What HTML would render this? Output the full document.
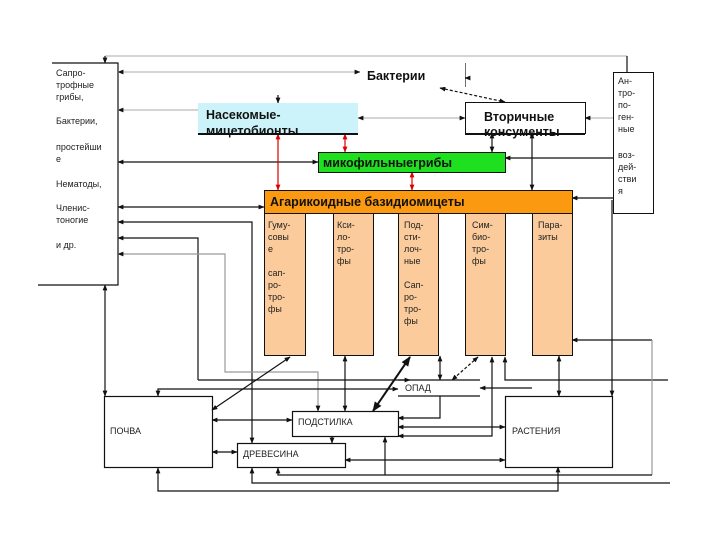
<!DOCTYPE html>
<html><head><meta charset="utf-8"><style>
body{margin:0;background:#fff}
svg{display:block;font-family:"Liberation Sans",sans-serif}
.t{font-size:9px;fill:#222}
.b{font-weight:bold;font-size:12.5px;fill:#111}
</style></head><body>
<svg width="720" height="540" viewBox="0 0 720 540" xmlns="http://www.w3.org/2000/svg">
<defs>
<marker id="a" viewBox="0 0 10 10" refX="9" refY="5" markerWidth="5" markerHeight="5" orient="auto-start-reverse"><path d="M0,1 L10,5 L0,9z" fill="#111"/></marker>
<marker id="r" viewBox="0 0 10 10" refX="9" refY="5" markerWidth="5" markerHeight="5" orient="auto-start-reverse"><path d="M0,1 L10,5 L0,9z" fill="#d00"/></marker>
</defs>
<g stroke="#111" stroke-width="1.2" fill="none">
<!-- top lines -->
<line x1="105" y1="56" x2="627" y2="56" stroke="#bbb"/>
<line x1="627" y1="56" x2="627" y2="72"/>
<line x1="105" y1="63" x2="105" y2="56" marker-start="url(#a)"/>
<!-- left box -->
<path d="M52,63 H118 V285 H38"/>
<!-- left arrows -->
<line x1="118" y1="72" x2="360" y2="72" stroke="#bbb" marker-start="url(#a)" marker-end="url(#a)"/>
<line x1="118" y1="110" x2="198" y2="110" stroke="#bbb" marker-start="url(#a)"/>
<line x1="118" y1="162" x2="318" y2="162" marker-start="url(#a)" marker-end="url(#a)"/>
<line x1="118" y1="207" x2="264" y2="207" marker-start="url(#a)" marker-end="url(#a)"/>
<path d="M252,443 V222 H118" marker-start="url(#a)" marker-end="url(#a)"/>
<path d="M198,380 V238 H118" marker-end="url(#a)"/>
<path d="M318,411 V372 H225 V254 H118" stroke="#999" marker-start="url(#a)" marker-end="url(#a)"/>
<path d="M198,380 H410" marker-end="url(#a)"/>
<line x1="105" y1="285" x2="105" y2="396" marker-start="url(#a)" marker-end="url(#a)"/>
<!-- top boxes -->
<path d="M465,63 V87"/>
<line x1="465" y1="78" x2="470" y2="78" marker-start="url(#a)"/>
<line x1="440" y1="88" x2="505" y2="102" stroke-dasharray="3,2" marker-start="url(#a)" marker-end="url(#a)"/>
<line x1="278" y1="95" x2="278" y2="103" marker-end="url(#a)"/>
<line x1="358" y1="118" x2="465" y2="118" stroke="#bbb" marker-start="url(#a)" marker-end="url(#a)"/>
<line x1="613" y1="118" x2="585" y2="118" stroke="#bbb" marker-end="url(#a)"/>
<line x1="613" y1="158" x2="505" y2="158" marker-end="url(#a)"/>
<line x1="613" y1="198" x2="572" y2="198" marker-end="url(#a)"/>
<line x1="492" y1="133" x2="492" y2="152" marker-start="url(#a)" marker-end="url(#a)"/>
<line x1="532" y1="133" x2="532" y2="190" marker-start="url(#a)" marker-end="url(#a)"/>
</g>
<g stroke="#d00" stroke-width="1.2">
<line x1="278" y1="134" x2="278" y2="190" marker-start="url(#r)" marker-end="url(#r)"/>
<line x1="345" y1="134" x2="345" y2="152" marker-start="url(#r)" marker-end="url(#r)"/>
<line x1="412" y1="172" x2="412" y2="190" marker-start="url(#r)" marker-end="url(#r)"/>
</g>
<!-- boxes -->
<rect x="360" y="63" width="105" height="24" fill="#fff"/>
<text x="367" y="80" class="b">Бактерии</text>
<rect x="198" y="103" width="160" height="30" fill="#cdf3fa"/>
<line x1="198" y1="134" x2="358" y2="134" stroke="#111" stroke-width="2"/>
<text x="206" y="119" class="b">Насекомые-</text>
<text x="206" y="135" class="b">мицетобионты</text>
<rect x="465.5" y="102.5" width="120" height="31" fill="#fff" stroke="#111"/>
<line x1="465" y1="134" x2="585" y2="134" stroke="#111" stroke-width="2"/>
<text x="484" y="121" class="b">Вторичные</text>
<text x="484" y="136" class="b">консументы</text>
<rect x="613.5" y="72.5" width="40" height="141" fill="#fff" stroke="#111"/>
<g class="t" font-size="9"><text x="618" y="84">Ан-</text><text x="618" y="96">тро-</text><text x="618" y="108">по-</text><text x="618" y="120">ген-</text><text x="618" y="132">ные</text><text x="618" y="158">воз-</text><text x="618" y="170">дей-</text><text x="618" y="182">стви</text><text x="618" y="194">я</text></g>
<rect x="318.5" y="152.5" width="187" height="20" fill="#1fe01f" stroke="#111"/>
<text x="323" y="167" class="b" font-size="11.5">микофильныегрибы</text>
<rect x="264.5" y="190.5" width="308" height="23" fill="#fb9a10" stroke="#111"/>
<text x="270" y="206" class="b" font-size="12">Агарикоидные базидиомицеты</text>
<g fill="#fbcb9b" stroke="#111">
<rect x="264.5" y="213.5" width="41" height="142"/><rect x="333.5" y="213.5" width="40" height="142"/><rect x="398.5" y="213.5" width="40" height="142"/><rect x="465.5" y="213.5" width="40" height="142"/><rect x="532.5" y="213.5" width="40" height="142"/>
</g>
<g class="t">
<text x="268" y="228">Гуму-</text><text x="268" y="240">совы</text><text x="268" y="252">е</text><text x="268" y="276">сап-</text><text x="268" y="288">ро-</text><text x="268" y="300">тро-</text><text x="268" y="312">фы</text>
<text x="337" y="228">Кси-</text><text x="337" y="240">ло-</text><text x="337" y="252">тро-</text><text x="337" y="264">фы</text>
<text x="404" y="228">Под-</text><text x="404" y="240">сти-</text><text x="404" y="252">лоч-</text><text x="404" y="264">ные</text><text x="404" y="288">Сап-</text><text x="404" y="300">ро-</text><text x="404" y="312">тро-</text><text x="404" y="324">фы</text>
<text x="472" y="228">Сим-</text><text x="472" y="240">био-</text><text x="472" y="252">тро-</text><text x="472" y="264">фы</text>
<text x="538" y="228">Пара-</text><text x="538" y="240">зиты</text>
</g>
<!-- lower -->
<g stroke="#111" stroke-width="1.2" fill="none">
<rect x="104.5" y="396.5" width="108" height="71" fill="#fff"/>
<rect x="292.5" y="411.5" width="106" height="25" fill="#fff"/>
<rect x="237.5" y="443.5" width="108" height="24" fill="#fff"/>
<rect x="505.5" y="396.5" width="107" height="71" fill="#fff"/>
<line x1="398" y1="380" x2="480" y2="380"/>
<line x1="398" y1="396" x2="480" y2="396"/>
<path d="M158,396 V389 H398" marker-start="url(#a)" marker-end="url(#a)"/>
<line x1="212" y1="410" x2="290" y2="357" marker-start="url(#a)" marker-end="url(#a)"/>
<line x1="212" y1="420" x2="292" y2="420" marker-start="url(#a)" marker-end="url(#a)"/>
<line x1="212" y1="452" x2="237" y2="452" marker-start="url(#a)" marker-end="url(#a)"/>
<line x1="345" y1="356" x2="345" y2="411" marker-start="url(#a)" marker-end="url(#a)"/>
<line x1="410" y1="357" x2="373" y2="411" stroke-width="2" marker-start="url(#a)" marker-end="url(#a)"/>
<line x1="332" y1="436" x2="332" y2="443" marker-end="url(#a)"/>
<line x1="440" y1="356" x2="440" y2="380" marker-start="url(#a)" marker-end="url(#a)"/>
<line x1="478" y1="357" x2="452" y2="380" stroke-dasharray="3,2" marker-start="url(#a)" marker-end="url(#a)"/>
<path d="M505,357 V380 H668" marker-start="url(#a)"/>
<line x1="532" y1="388" x2="480" y2="388" marker-end="url(#a)"/>
<line x1="559" y1="356" x2="559" y2="396" marker-start="url(#a)" marker-end="url(#a)"/>
<path d="M612,200 V396" marker-end="url(#a)"/>
<path d="M652,340 H572" marker-end="url(#a)"/>
<line x1="652" y1="340" x2="652" y2="475" stroke="#999"/>
<path d="M440,396 V418 H398" marker-end="url(#a)"/>
<line x1="398" y1="427" x2="505" y2="427" marker-start="url(#a)" marker-end="url(#a)"/>
<path d="M492,357 V436 H398" marker-start="url(#a)" marker-end="url(#a)"/>
<line x1="345" y1="460" x2="505" y2="460" marker-start="url(#a)" marker-end="url(#a)"/>
<path d="M385,437 V475" marker-start="url(#a)"/>
<path d="M278,468 V475 H652" marker-start="url(#a)"/>
<path d="M252,468 V483 H670" marker-start="url(#a)"/>
<path d="M158,468 V491 H558 V467" marker-start="url(#a)" marker-end="url(#a)"/>
</g>
<g class="t" font-size="9.5">
<text x="405" y="391">ОПАД</text>
<text x="110" y="434">ПОЧВА</text>
<text x="298" y="425">ПОДСТИЛКА</text>
<text x="243" y="457">ДРЕВЕСИНА</text>
<text x="512" y="434">РАСТЕНИЯ</text>
</g>
<g class="t">
<text x="56" y="76">Сапро-</text><text x="56" y="88">трофные</text><text x="56" y="100">грибы,</text>
<text x="56" y="124">Бактерии,</text>
<text x="56" y="150">простейши</text><text x="56" y="162">е</text>
<text x="56" y="187">Нематоды,</text>
<text x="56" y="211">Членис-</text><text x="56" y="223">тоногие</text>
<text x="56" y="248">и др.</text>
</g>
</svg>
</body></html>
